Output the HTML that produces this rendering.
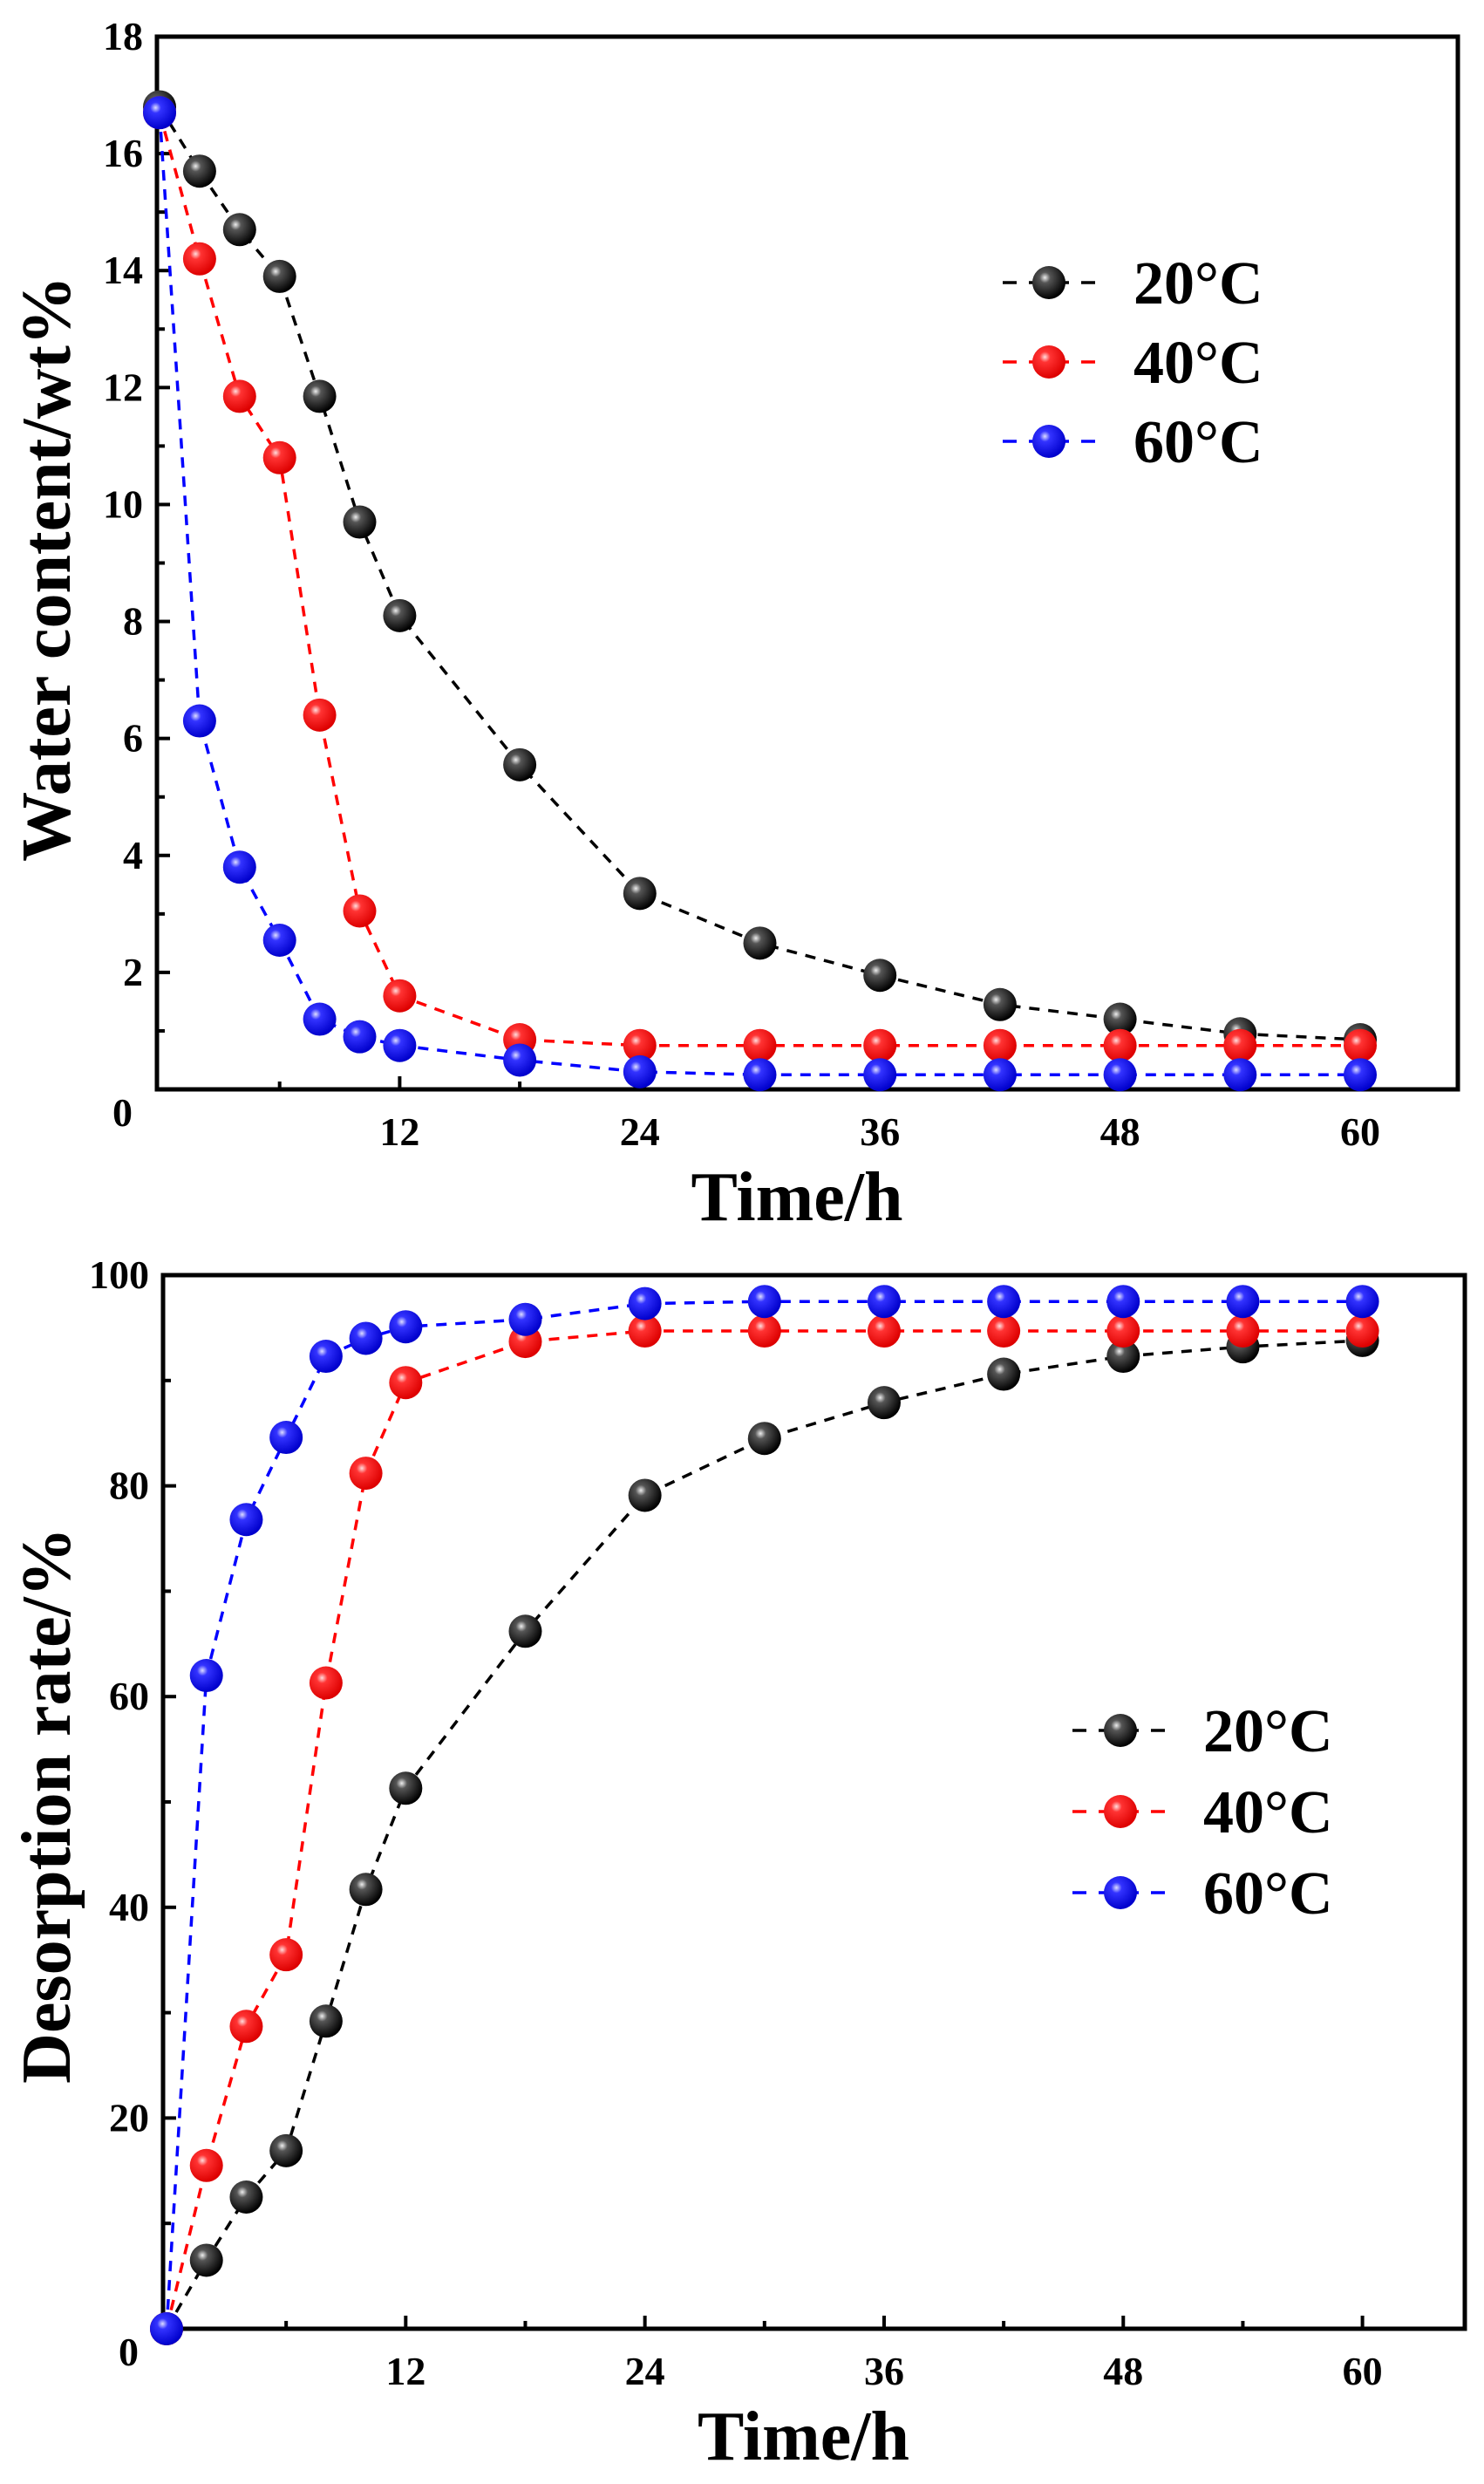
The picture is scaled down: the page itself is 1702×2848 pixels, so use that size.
<!DOCTYPE html>
<html><head><meta charset="utf-8"><style>
html,body{margin:0;padding:0;background:#fff}
svg{display:block}
text{font-family:"Liberation Serif",serif;font-weight:bold;fill:#000}
</style></head><body>
<svg id="s" width="1702" height="2848" viewBox="0 0 1702 2848" xmlns="http://www.w3.org/2000/svg">
<defs>
<radialGradient id="gk" cx="0.38" cy="0.35" r="0.65"><stop offset="0" stop-color="#eee"/><stop offset="0.25" stop-color="#555"/><stop offset="1" stop-color="#000"/></radialGradient>
<radialGradient id="gr" cx="0.38" cy="0.35" r="0.65"><stop offset="0" stop-color="#fdd"/><stop offset="0.25" stop-color="#f33"/><stop offset="1" stop-color="#d00"/></radialGradient>
<radialGradient id="gb" cx="0.38" cy="0.35" r="0.65"><stop offset="0" stop-color="#ddf"/><stop offset="0.25" stop-color="#33f"/><stop offset="1" stop-color="#00c"/></radialGradient>
</defs>
</svg>
<script>
const s=document.getElementById('s');const NS='http://www.w3.org/2000/svg';
function el(t,a,txt){const e=document.createElementNS(NS,t);for(const k in a)e.setAttribute(k,a[k]);if(txt!==undefined)e.textContent=txt;s.appendChild(e);return e;}
const X=[0,2,4,6,8,10,12,18,24,30,36,42,48,54,60];
const cols=['#000','#f00','#00f'],grads=['url(#gk)','url(#gr)','url(#gb)'];
function plot(P){
 const fx=v=>P.x0+v*P.px, fy=v=>P.yb-(v/P.ymax)*(P.yb-P.yt);
 el('rect',{x:P.l,y:P.yt,width:P.r-P.l,height:P.yb-P.yt,fill:'none',stroke:'#000','stroke-width':5});
 for(let v=6;v<=60;v+=6){const x=fx(v);el('line',{x1:x,y1:P.yb,x2:x,y2:P.yb-(v%12?9:15),stroke:'#000','stroke-width':4});}
 for(let i=1;i<P.ymax/P.ystep*2;i++){const v=i*P.ystep/2,y=fy(v);el('line',{x1:P.l,y1:y,x2:P.l+(i%2?9:15),y2:y,stroke:'#000','stroke-width':4});}
 for(let v=12;v<=60;v+=12)el('text',{x:fx(v),y:P.yb+64,'font-size':46,'text-anchor':'middle'},v);
 el('text',{x:P.l-28,y:P.yb+42,'font-size':46,'text-anchor':'end'},'0');
 for(let v=P.ystep;v<=P.ymax;v+=P.ystep)el('text',{x:P.l-16,y:fy(v)+15,'font-size':46,'text-anchor':'end'},v);
 el('text',{x:(P.l+P.r)/2-12,y:P.yb+P.tyo,'font-size':80,'text-anchor':'middle'},'Time/h');
 el('text',{x:0,y:0,'font-size':80,'text-anchor':'middle',transform:`translate(${P.tx},${P.ty}) rotate(-90)`},P.title);
 P.data.forEach((d,k)=>{
  el('polyline',{points:d.map((v,i)=>fx(X[i])+','+fy(v)).join(' '),fill:'none',stroke:cols[k],'stroke-width':3.5,'stroke-dasharray':'12 10'});
 });
 P.data.forEach((d,k)=>{d.forEach((v,i)=>el('circle',{cx:fx(X[i]),cy:fy(v),r:19,fill:grads[k]}));});
 ['20°C','40°C','60°C'].forEach((t,k)=>{const y=P.ly+k*P.lg;
  el('line',{x1:P.lx1,y1:y,x2:P.lx2,y2:y,stroke:cols[k],'stroke-width':3.5,'stroke-dasharray':'16 14'});
  el('circle',{cx:(P.lx1+P.lx2)/2,cy:y,r:19,fill:grads[k]});
  el('text',{x:P.tx2,y:y+24,'font-size':70},t);});
}
plot({l:180,r:1672,yt:42,yb:1249,x0:183,px:22.95,ymax:18,ystep:2,tx:80,ty:652,tyo:150,title:'Water content/wt%',
 lx1:1150,lx2:1256,ly:324,lg:91,tx2:1300,
 data:[[16.8,15.7,14.7,13.9,11.85,9.7,8.1,5.55,3.35,2.5,1.95,1.45,1.2,0.95,0.85],
 [16.7,14.2,11.85,10.8,6.4,3.05,1.6,0.85,0.75,0.75,0.75,0.75,0.75,0.75,0.75],
 [16.7,6.3,3.8,2.55,1.2,0.9,0.75,0.5,0.3,0.25,0.25,0.25,0.25,0.25,0.25]]});
plot({l:187,r:1680,yt:1462,yb:2670,x0:191,px:22.86,ymax:100,ystep:20,tx:80,ty:2070,tyo:150,title:'Desorption rate/%',
 lx1:1230,lx2:1340,ly:1984,lg:93,tx2:1380,
 data:[[0,6.5,12.5,16.9,29.2,41.7,51.3,66.2,79.1,84.5,87.9,90.6,92.3,93.2,93.8],
 [0,15.5,28.7,35.5,61.3,81.2,89.8,93.7,94.7,94.7,94.7,94.7,94.7,94.7,94.7],
 [0,62,76.8,84.6,92.3,94,95.1,95.8,97.3,97.5,97.5,97.5,97.5,97.5,97.5]]});
</script>
</body></html>
